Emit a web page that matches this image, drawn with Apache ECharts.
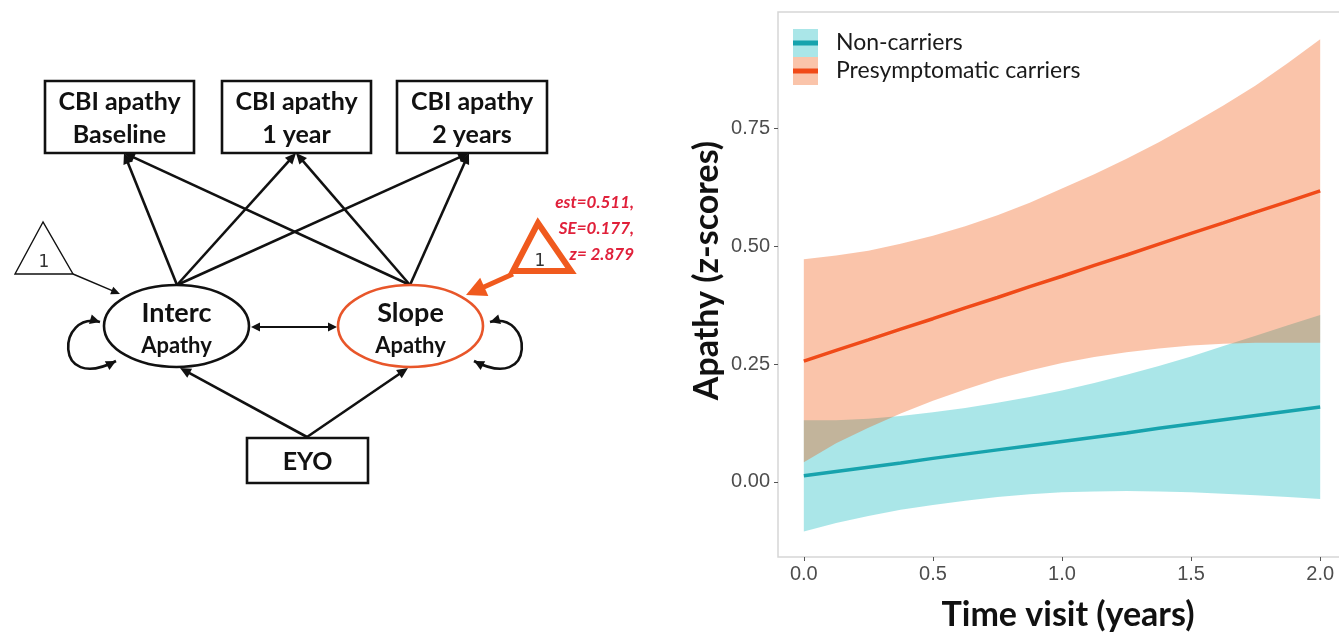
<!DOCTYPE html>
<html><head><meta charset="utf-8">
<script src="https://cdn.jsdelivr.net/npm/echarts@6/dist/echarts.min.js"></script>
<style>html,body{margin:0;padding:0;background:#fff}#c{width:1339px;height:634px}</style>
</head><body><div id="c"></div>
<script>
// ---------- data ----------
const timeYears       = [0, 0.125, 0.25, 0.375, 0.5, 0.625, 0.75, 0.875, 1.0, 1.125, 1.25, 1.375, 1.5, 1.625, 1.75, 1.875, 2.0];
const nonCarrierFit   = [0.013, 0.022, 0.031, 0.040, 0.050, 0.059, 0.068, 0.077, 0.086, 0.095, 0.104, 0.114, 0.123, 0.132, 0.141, 0.150, 0.159];
const nonCarrierLower = [-0.105, -0.087, -0.072, -0.059, -0.049, -0.040, -0.032, -0.026, -0.022, -0.020, -0.019, -0.020, -0.022, -0.025, -0.028, -0.032, -0.036];
const nonCarrierUpper = [0.131, 0.131, 0.134, 0.140, 0.148, 0.157, 0.168, 0.180, 0.194, 0.210, 0.227, 0.246, 0.266, 0.288, 0.310, 0.332, 0.354];
const presymFit       = [0.256, 0.279, 0.301, 0.324, 0.346, 0.369, 0.391, 0.414, 0.436, 0.459, 0.481, 0.504, 0.527, 0.549, 0.572, 0.594, 0.617];
const presymLower     = [0.042, 0.082, 0.115, 0.145, 0.172, 0.196, 0.218, 0.236, 0.252, 0.265, 0.275, 0.283, 0.289, 0.293, 0.295, 0.295, 0.295];
const presymUpper     = [0.472, 0.480, 0.490, 0.505, 0.522, 0.542, 0.565, 0.592, 0.622, 0.652, 0.685, 0.720, 0.758, 0.798, 0.840, 0.888, 0.938];
const xTickValues     = [0, 0.5, 1.0, 1.5, 2.0];
const yTickValues     = [0, 0.25, 0.5, 0.75];
const groupNames      = ['Non-carriers', 'Presymptomatic carriers'];
const estimateLines   = ['est=0.511,', 'SE=0.177,', 'z= 2.879'];

// ---------- path diagram layout (diagram units = pixels) ----------
const diagramBoxes = [
  {lines: ['CBI apathy', 'Baseline'], cx: 119.5, cy: 117, w: 149, h: 72},
  {lines: ['CBI apathy', '1 year'],   cx: 296.5, cy: 117, w: 149, h: 72},
  {lines: ['CBI apathy', '2 years'],  cx: 472,   cy: 117, w: 150, h: 72},
  {lines: ['EYO'],                    cx: 307.5, cy: 460.5, w: 121, h: 45}
];
const diagramLatents = [
  {name: 'Interc', sub: 'Apathy', cx: 176.5, cy: 326, rx: 72.5, ry: 41, color: '#111'},
  {name: 'Slope',  sub: 'Apathy', cx: 410.5, cy: 326, rx: 72.5, ry: 41, color: '#e8562a'}
];
const diagramPaths = [
  [[177, 285], [124, 153]], [[177, 285], [296, 153]], [[177, 285], [469, 153]],
  [[410, 285], [124, 153]], [[410, 285], [296, 153]], [[410, 285], [469, 153]],
  [[307, 437], [180, 368]], [[307, 437], [408, 368]]
];
const diagramCovariance = [[251, 327], [337, 327]];
const diagramLoops = [
  [[100, 322], [58, 310], [52, 394], [116, 361]],
  [[490, 322], [532, 310], [538, 394], [474, 361]]
];

const cyanBand = 'rgba(12,184,189,0.35)';
const orangeBand = 'rgba(241,86,12,0.35)';
const cyanLine = '#17a3ad';
const orangeLine = '#f04a18';

function head(tip, ux, uy, len, half, color) {
  const bx = tip[0] - ux * len, by = tip[1] - uy * len;
  return {type: 'polygon', shape: {points: [[tip[0], tip[1]], [bx - uy * half, by + ux * half], [bx + uy * half, by - ux * half]]}, style: {fill: color}};
}
function arrow(a, b, color, width, len, half, both) {
  const dx = b[0] - a[0], dy = b[1] - a[1], d = Math.hypot(dx, dy), ux = dx / d, uy = dy / d;
  const a2 = both ? [a[0] + ux * len * 0.8, a[1] + uy * len * 0.8] : a;
  const b2 = [b[0] - ux * len * 0.8, b[1] - uy * len * 0.8];
  const out = [{type: 'line', shape: {x1: a2[0], y1: a2[1], x2: b2[0], y2: b2[1]}, style: {stroke: color, lineWidth: width}}];
  out.push(head(b, ux, uy, len, half, color));
  if (both) out.push(head(a, -ux, -uy, len, half, color));
  return out;
}
function txt(t, x, y, size, weight, opts) {
  return {type: 'text', style: Object.assign({text: t, x: x, y: y, fontSize: size, fontWeight: weight, fontFamily: 'Lato',
    align: 'center', verticalAlign: 'middle', fill: '#111'}, opts || {})};
}

function renderDiagram(params, api) {
  const P = p => api.coord(p);
  const kids = [];
  const ink = '#111';
  diagramPaths.forEach(([a, b]) => kids.push(...arrow(P(a), P(b), ink, 2.6, 11, 5, false)));
  kids.push(...arrow(P(diagramCovariance[0]), P(diagramCovariance[1]), ink, 2.2, 9, 4.5, true));
  diagramLoops.forEach(([p0, c1, c2, p3]) => {
    const a = P(p0), b = P(c1), c = P(c2), d = P(p3);
    kids.push({type: 'bezierCurve', shape: {x1: a[0], y1: a[1], cpx1: b[0], cpy1: b[1], cpx2: c[0], cpy2: c[1], x2: d[0], y2: d[1]},
      style: {stroke: ink, lineWidth: 2.6, fill: 'none'}});
    let ux = a[0] - b[0], uy = a[1] - b[1], n = Math.hypot(ux, uy);
    kids.push(head(a, ux / n, uy / n, 10, 5, ink));
    ux = d[0] - c[0]; uy = d[1] - c[1]; n = Math.hypot(ux, uy);
    kids.push(head(d, ux / n, uy / n, 10, 5, ink));
  });
  diagramBoxes.forEach(b => {
    const tl = P([b.cx - b.w / 2, b.cy - b.h / 2]);
    kids.push({type: 'rect', shape: {x: tl[0], y: tl[1], width: b.w, height: b.h}, style: {fill: '#fff', stroke: ink, lineWidth: 2.6}});
    if (b.lines.length === 2) {
      let p = P([b.cx, b.cy - 15]); kids.push(txt(b.lines[0], p[0], p[1], 25, 'bold'));
      p = P([b.cx, b.cy + 18]); kids.push(txt(b.lines[1], p[0], p[1], 25, 'bold'));
    } else {
      const p = P([b.cx, b.cy + 1]); kids.push(txt(b.lines[0], p[0], p[1], 25, 'bold'));
    }
  });
  diagramLatents.forEach(e => {
    const c = P([e.cx, e.cy]);
    kids.push({type: 'ellipse', shape: {cx: c[0], cy: c[1], rx: e.rx, ry: e.ry}, style: {fill: '#fff', stroke: e.color, lineWidth: 2.6}});
    let p = P([e.cx, e.cy - 13]); kids.push(txt(e.name, p[0], p[1], 27, 'bold'));
    p = P([e.cx, e.cy + 20]); kids.push(txt(e.sub, p[0], p[1], 22, 'bold'));
  });
  const t1 = [P([43, 222]), P([15, 274]), P([73, 274])];
  kids.push({type: 'polygon', shape: {points: t1}, style: {fill: '#fff', stroke: ink, lineWidth: 1.4}});
  let p = P([44, 263]); kids.push(txt('1', p[0], p[1], 17, 'normal', {fontFamily: 'DejaVu Sans', fill: '#333'}));
  kids.push(...arrow(P([73, 274]), P([120, 294]), ink, 1.4, 9, 4, false));
  const t2 = [P([538, 223]), P([513, 271]), P([571, 271])];
  kids.push(...arrow(P([513, 274]), P([466, 295]), '#f05a1e', 5, 20, 10, false));
  kids.push({type: 'polygon', shape: {points: t2}, style: {fill: '#fff', stroke: '#f05a1e', lineWidth: 6, lineJoin: 'miter'}});
  p = P([540, 262]); kids.push(txt('1', p[0], p[1], 17, 'normal', {fontFamily: 'DejaVu Sans', fill: '#333'}));
  estimateLines.forEach((s, i) => {
    const q = P([634, 203 + i * 26]);
    kids.push(txt(s, q[0], q[1], 17, 'bold', {align: 'right', fontStyle: 'italic', fill: '#e0203a'}));
  });
  return {type: 'group', children: kids};
}

function bandRenderer(lower, upper, fill) {
  return function (params, api) {
    const pts = [];
    for (let i = 0; i < timeYears.length; i++) pts.push(api.coord([timeYears[i], upper[i]]));
    for (let i = timeYears.length - 1; i >= 0; i--) pts.push(api.coord([timeYears[i], lower[i]]));
    return {type: 'polygon', shape: {points: pts}, style: {fill: fill}, silent: true};
  };
}

const chart = echarts.init(document.getElementById('c'), null, {renderer: 'canvas'});
const tickFont = {fontFamily: 'Liberation Sans', fontSize: 20, color: '#4d4d4d'};
const legendBase = {orient: 'vertical', left: 793, top: 29, padding: 0, itemWidth: 25, itemGap: 0, selectedMode: false};
chart.setOption({
  animation: false,
  backgroundColor: '#fff',
  grid: [
    {left: 778, top: 12, right: -7, bottom: 77, show: true, borderColor: '#d6d6d6', borderWidth: 1.5,
     containLabel: false, outerBoundsMode: 'none'},
    {left: 0, top: 0, width: 1339, height: 634, show: false, outerBoundsMode: 'none'}
  ],
  xAxis: [
    {type: 'value', gridIndex: 0, min: -0.1, max: 2.1,
     name: 'Time visit (years)', nameLocation: 'middle', nameGap: 41,
     nameTextStyle: {fontFamily: 'Lato', fontWeight: 'bold', fontSize: 34, color: '#111', padding: [0, 0, 0, 12]},
     axisLine: {show: false, onZero: false}, splitLine: {show: false},
     axisTick: {show: true, length: 4, lineStyle: {color: '#555'}, customValues: xTickValues},
     axisLabel: Object.assign({margin: 7, customValues: xTickValues, formatter: v => v.toFixed(1)}, tickFont)},
    {type: 'value', gridIndex: 1, min: 0, max: 1339, show: false}
  ],
  yAxis: [
    {type: 'value', gridIndex: 0, min: -0.159, max: 0.996,
     name: 'Apathy (z-scores)', nameLocation: 'middle', nameGap: 54, nameRotate: 90,
     nameTextStyle: {fontFamily: 'Lato', fontWeight: 'bold', fontSize: 34, color: '#111', padding: [0, 0, 0, 28]},
     axisLine: {show: false, onZero: false}, splitLine: {show: false},
     axisTick: {show: true, length: 4, lineStyle: {color: '#555'}, customValues: yTickValues},
     axisLabel: Object.assign({margin: 8, customValues: yTickValues, formatter: v => v.toFixed(2)}, tickFont)},
    {type: 'value', gridIndex: 1, min: 0, max: 634, inverse: true, show: false}
  ],
  legend: [
    Object.assign({}, legendBase, {
      itemHeight: 28,
      data: [{name: groupNames[0], icon: 'rect', itemStyle: {color: cyanBand, borderWidth: 0}},
             {name: groupNames[1], icon: 'rect', itemStyle: {color: orangeBand, borderWidth: 0}}],
      textStyle: {fontFamily: 'Lato', fontSize: 23, color: '#1a1a1a', lineHeight: 28, padding: [0, 0, 0, 13]}
    }),
    Object.assign({}, legendBase, {
      itemHeight: 5,
      data: [{name: groupNames[0], icon: 'rect', itemStyle: {color: cyanLine, borderWidth: 0}},
             {name: groupNames[1], icon: 'rect', itemStyle: {color: orangeLine, borderWidth: 0}}],
      textStyle: {fontFamily: 'Lato', fontSize: 23, color: 'rgba(0,0,0,0)', lineHeight: 28, padding: [0, 0, 0, 13]}
    })
  ],
  series: [
    {type: 'custom', name: groupNames[0], xAxisIndex: 0, yAxisIndex: 0, data: [[0, 0]], z: 1,
     renderItem: bandRenderer(nonCarrierLower, nonCarrierUpper, cyanBand), itemStyle: {color: cyanBand}},
    {type: 'custom', name: groupNames[1], xAxisIndex: 0, yAxisIndex: 0, data: [[0, 0]], z: 2,
     renderItem: bandRenderer(presymLower, presymUpper, orangeBand), itemStyle: {color: orangeBand}},
    {type: 'line', name: groupNames[0], xAxisIndex: 0, yAxisIndex: 0, z: 3, showSymbol: false, symbol: 'none',
     data: timeYears.map((x, i) => [x, nonCarrierFit[i]]), lineStyle: {color: cyanLine, width: 3.5}, itemStyle: {color: cyanLine}},
    {type: 'line', name: groupNames[1], xAxisIndex: 0, yAxisIndex: 0, z: 4, showSymbol: false, symbol: 'none',
     data: timeYears.map((x, i) => [x, presymFit[i]]), lineStyle: {color: orangeLine, width: 3.5}, itemStyle: {color: orangeLine}},
    {type: 'custom', name: 'diagram', xAxisIndex: 1, yAxisIndex: 1, data: [[0, 0]], z: 5,
     renderItem: renderDiagram, silent: true}
  ]
});
</script></body></html>
